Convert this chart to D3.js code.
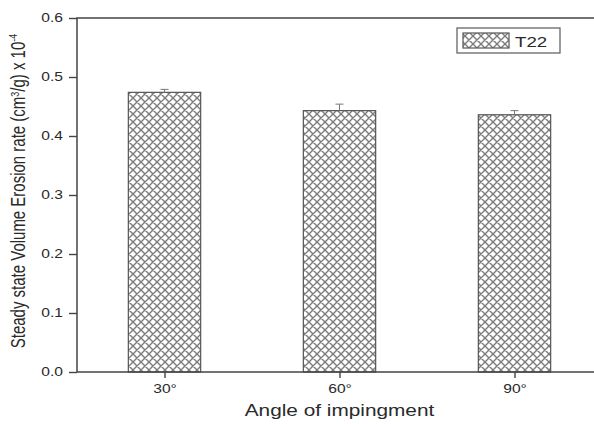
<!DOCTYPE html>
<html>
<head>
<meta charset="utf-8">
<script src="https://cdn.jsdelivr.net/npm/d3@7"></script>
<style>
  body { margin: 0; background: #fff; }
  text { font-family: "Liberation Sans", Arial, sans-serif; fill: #2a2a2a; }
</style>
</head>
<body>
<div id="vis"></div>
<script>
// data
var angles = [30, 60, 90];
var angleLabels = ["30°", "60°", "90°"];
var rates = [0.474, 0.443, 0.436];
var errors = [0.005, 0.011, 0.007];
var yTicks = [0.0, 0.1, 0.2, 0.3, 0.4, 0.5, 0.6];
var seriesName = "T22";

var W = 594, H = 424;
var margin = {top: 18, right: -8, bottom: 52, left: 77},
    width = W - margin.left - margin.right,
    height = H - margin.top - margin.bottom;
var stretch = 1.3;   // the source picture is widened horizontally

var svg = d3.select("#vis").append("svg")
    .attr("width", W)
    .attr("height", H);

// crosshatch pattern
var defs = svg.append("defs");
var pat = defs.append("pattern")
    .attr("id", "hatch")
    .attr("patternUnits", "userSpaceOnUse")
    .attr("width", 8)
    .attr("height", 8);
pat.append("rect").attr("width", 8).attr("height", 8).attr("fill", "#fff");
pat.append("path")
    .attr("d", "M-2,2 L2,-2 M0,8 L8,0 M6,10 L10,6 M-2,6 L2,10 M0,0 L8,8 M6,-2 L10,2")
    .attr("stroke", "#7c7c7c")
    .attr("stroke-width", 1.4);

var g = svg.append("g")
    .attr("transform", "translate(" + margin.left + "," + margin.top + ")");

var x = d3.scaleLinear()
    .domain([15, 105])
    .range([0, width]);

var y = d3.scaleLinear()
    .domain([0, 0.6])
    .range([height, 0]);

var barW = x(12.4) - x(0);

// bars
g.selectAll(".bar")
  .data(rates)
  .enter()
  .append("rect")
    .attr("class", "bar")
    .attr("x", function(d, i) { return x(angles[i]) - barW / 2; })
    .attr("y", function(d) { return y(d); })
    .attr("width", barW)
    .attr("height", function(d) { return height - y(d); })
    .attr("fill", "url(#hatch)")
    .attr("stroke", "#555")
    .attr("stroke-width", 1.2);

// error bars (upper only)
g.selectAll(".err")
  .data(rates)
  .enter()
  .append("path")
    .attr("class", "err")
    .attr("d", function(d, i) {
      var cx = x(angles[i]), top = y(d + errors[i]);
      return "M" + cx + "," + y(d) + "V" + top + "M" + (cx - 4) + "," + top + "H" + (cx + 4);
    })
    .attr("stroke", "#777")
    .attr("stroke-width", 1)
    .attr("fill", "none");

// y axis
var yAxis = g.append("g")
    .call(d3.axisLeft(y).tickValues(yTicks).tickFormat(d3.format(".1f")).tickSize(8).tickPadding(6));
yAxis.select(".domain").remove();
yAxis.selectAll("text")
    .style("font-size", "12px")
    .attr("x", -14 / stretch)
    .attr("transform", "scale(" + stretch + ",1)");
yAxis.selectAll(".tick line").attr("stroke", "#444").attr("stroke-width", 1.4);

// x axis
var xAxis = g.append("g")
    .attr("transform", "translate(0," + height + ")")
    .call(d3.axisBottom(x).tickValues(angles).tickFormat(function(d, i) { return angleLabels[i]; }).tickSize(6).tickPadding(6));
xAxis.select(".domain").remove();
xAxis.selectAll("text")
    .style("font-size", "12px")
    .attr("transform", "scale(" + stretch + ",1)");
xAxis.selectAll(".tick line").attr("stroke", "#444").attr("stroke-width", 1.4);

// frame lines (left, top, bottom)
g.append("path")
    .attr("d", "M" + width + ",0H0V" + height + "H" + width)
    .attr("fill", "none")
    .attr("stroke", "#444")
    .attr("stroke-width", 1.5);

// axis titles
svg.append("text")
    .attr("transform", "translate(" + (margin.left + x(60)) + ",416) scale(" + stretch + ",1)")
    .attr("text-anchor", "middle")
    .style("font-size", "16px")
    .text("Angle of impingment");

var yl = svg.append("text")
    .attr("transform", "translate(25,191) scale(" + stretch + ",1) rotate(-90)")
    .attr("text-anchor", "middle")
    .style("font-size", "15px");
yl.append("tspan").text("Steady state Volume Erosion rate (cm");
yl.append("tspan").attr("dy", -5).style("font-size", "9px").text("3");
yl.append("tspan").attr("dy", 5).text("/g) x 10");
yl.append("tspan").attr("dy", -6).style("font-size", "9px").text("-4");

// legend
var leg = svg.append("g").attr("transform", "translate(457,28)");
leg.append("rect")
    .attr("width", 103).attr("height", 25)
    .attr("fill", "#fff").attr("stroke", "#666").attr("stroke-width", 1.3);
leg.append("rect")
    .attr("x", 6).attr("y", 5).attr("width", 46).attr("height", 15)
    .attr("fill", "url(#hatch)").attr("stroke", "#555").attr("stroke-width", 1.2);
leg.append("text")
    .attr("transform", "translate(58,18.5) scale(1.25,1)")
    .style("font-size", "15px")
    .text(seriesName);
</script>
</body>
</html>
